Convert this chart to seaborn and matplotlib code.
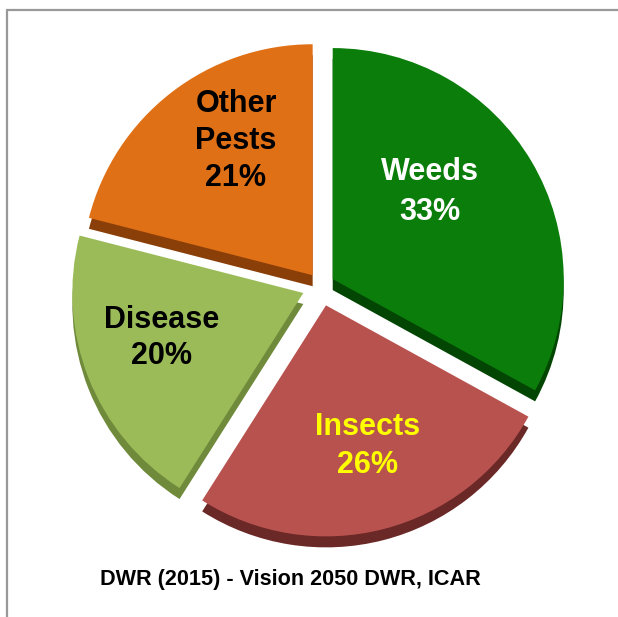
import matplotlib
matplotlib.use("Agg")
import matplotlib.pyplot as plt
import seaborn as sns
from matplotlib.lines import Line2D

sns.set_theme(style="white")
plt.rcParams['font.family'] = ['Liberation Sans', 'DejaVu Sans']

# ---- data ----
categories = ["Weeds", "Insects", "Disease", "Other\nPests"]
values = [33, 26, 20, 21]
top_colors = ["#0a7d0a", "#b8524e", "#9bbb59", "#e07016"]
side_colors = ["#034503", "#6a2826", "#6f8a3a", "#8a3e08"]
label_colors = ["white", "#ffff00", "black", "black"]
caption = "DWR (2015) - Vision 2050 DWR, ICAR"

W, H = 618, 617
fig = plt.figure(figsize=(W / 100, H / 100), dpi=100)
fig.patch.set_facecolor("white")
ax = fig.add_axes([0, 0, 1, 1])

cx, cy, r = 321, H - 286, 231
explode = [13.6, 20, 19, 13.6]   # absolute offset in data (pixel) units
depth = 11

# side (3D thickness)
ax.pie(values, colors=side_colors, startangle=90, counterclock=False,
       explode=explode, radius=r, center=(cx, cy - depth),
       wedgeprops=dict(linewidth=0), frame=True)
# top face
ax.pie(values, colors=top_colors, startangle=90, counterclock=False,
       explode=explode, radius=r, center=(cx, cy),
       wedgeprops=dict(linewidth=0), frame=True)
ax.set_xlim(0, W)
ax.set_ylim(0, H)
ax.set_aspect("auto")
ax.axis("off")

# labels (pixel positions of label centres, y from top)
label_pos = [(430, 192), (368, 446), (162, 338), (236, 141)]
label_spacing = [41, 38, 37, 37]
for cat, val, col, (lx, ly), sp in zip(categories, values, label_colors, label_pos, label_spacing):
    lines = cat.split("\n") + [f"{val}%"]
    n = len(lines)
    for i, line in enumerate(lines):
        yy = ly + (i - (n - 1) / 2) * sp
        ax.text(lx, H - yy, line, ha="center", va="center", color=col,
                fontsize=22, fontweight="bold")

# caption
fig.text(100 / W, 1 - 579 / H, caption, ha="left", va="center",
         fontsize=15.6, fontweight="bold", color="black")

# frame lines (top and left)
fig.add_artist(Line2D([7 / W, 1.0], [1 - 10 / H, 1 - 10 / H], transform=fig.transFigure,
                      color="#999999", linewidth=1.6))
fig.add_artist(Line2D([7 / W, 7 / W], [1 - 10 / H, 0], transform=fig.transFigure,
                      color="#999999", linewidth=1.6))

fig.savefig("out.png", dpi=100, facecolor="white")
